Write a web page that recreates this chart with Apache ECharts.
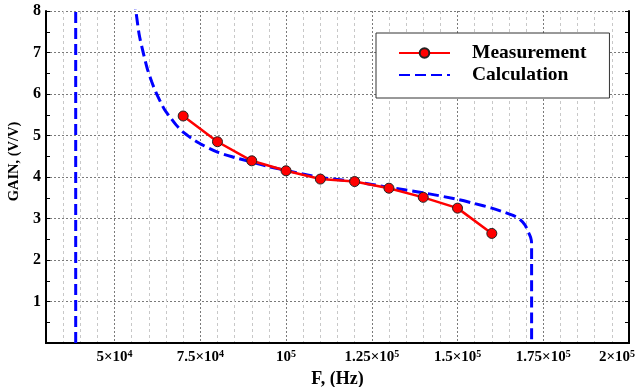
<!DOCTYPE html>
<html>
<head>
<meta charset="utf-8">
<script src="https://cdn.jsdelivr.net/npm/echarts@6/dist/echarts.min.js"></script>
<style>
html,body{margin:0;padding:0;background:#fff;}
#chart{width:636px;height:387px;}
</style>
</head>
<body>
<div id="chart"></div>
<script>
// ---- data ----
var measX = [70000, 80000, 90000, 100000, 110000, 120000, 130000, 140000, 150000, 160000];
var measY = [5.47, 4.85, 4.39, 4.15, 3.95, 3.89, 3.73, 3.51, 3.25, 2.64];

var calcX = [55600, 56200, 57200, 58400, 59500, 60800, 62000, 63200, 64600, 66200, 68000, 70000, 72500, 75000, 80000, 85000, 90000, 95000, 100000, 110000, 120000, 130000, 140000, 150000, 155000, 160000, 163000, 166000, 168000, 169700, 170600, 171300, 171600, 171600];
var calcY = [8.3, 8.0, 7.42, 6.98, 6.62, 6.30, 6.05, 5.84, 5.62, 5.44, 5.25, 5.08, 4.93, 4.80, 4.60, 4.47, 4.36, 4.25, 4.16, 3.99, 3.89, 3.75, 3.62, 3.46, 3.36, 3.25, 3.17, 3.08, 2.99, 2.84, 2.68, 2.55, 2.40, 0];

var calcLeftX = [38660, 38660];
var calcLeftY = [0, 8.5];

var xTickValues = [50000, 75000, 100000, 125000, 150000, 175000, 200000];
var xTickMant = ['5×10', '7.5×10', '10', '1.25×10', '1.5×10', '1.75×10', '2×10'];
var xTickExp = ['4', '4', '5', '5', '5', '5', '5'];

var yTickLabels = ['', '1', '2', '3', '4', '5', '6', '7', '8'];

// ---- build ----
function pairs(xs, ys) { return xs.map(function (x, i) { return [x, ys[i]]; }); }

var FONT = '"Liberation Serif", "Times New Roman", serif';
var light = '#c8c8c8', dark = '#7a7a7a', clear = 'rgba(0,0,0,0)';

var chart = echarts.init(document.getElementById('chart'), null, {renderer: 'canvas'});
chart.setOption({
  animation: false,
  backgroundColor: '#fff',
  grid: {left: 46, right: 7, top: 11, bottom: 44, containLabel: false, outerBoundsMode: 'none'},
  legend: {
    orient: 'vertical',
    left: 376, top: 33,
    itemWidth: 51, itemHeight: 12, itemGap: 0,
    padding: [9, 23, 12, 22],
    backgroundColor: '#fff',
    borderColor: '#333', borderWidth: 1,
    data: ['Measurement', {name: 'Calculation', itemStyle: {opacity: 0}}],
    textStyle: {
      fontFamily: FONT, fontWeight: 'bold', fontSize: 19.5, color: '#000',
      lineHeight: 22, width: 114, padding: [0, 0, 0, 17]
    }
  },
  xAxis: [{
    type: 'value', position: 'bottom',
    min: 30000, max: 200000, interval: 5000,
    axisLine: {show: true, lineStyle: {color: '#000', width: 2}},
    axisTick: {show: false},
    axisLabel: {
      margin: 6,
      formatter: function (v) {
        var i = xTickValues.indexOf(v);
        if (i < 0) return '';
        if (v === 200000) return '{r|' + xTickMant[i] + '}{rs|' + xTickExp[i] + '}';
        return '{b|' + xTickMant[i] + '}{s|' + xTickExp[i] + '}';
      },
      rich: {
        b: {fontFamily: FONT, fontWeight: 'bold', fontSize: 15, color: '#000', lineHeight: 17},
        s: {fontFamily: FONT, fontWeight: 'bold', fontSize: 10, color: '#000', lineHeight: 10, verticalAlign: 'top'},
        r: {fontFamily: FONT, fontWeight: 'bold', fontSize: 15, color: '#000', lineHeight: 17},
        rs: {fontFamily: FONT, fontWeight: 'bold', fontSize: 10, color: '#000', lineHeight: 10, verticalAlign: 'top', padding: [0, 24, 0, 0]}
      }
    },
    splitLine: {show: true, lineStyle: {color: [light, light, light, light, clear], type: [3, 3], width: 1}},
    name: 'F, (Hz)', nameLocation: 'middle', nameGap: 23,
    nameTextStyle: {fontFamily: FONT, fontWeight: 'bold', fontSize: 18, color: '#000'}
  }, {
    type: 'value', position: 'top',
    min: 30000, max: 200000, interval: 5000,
    axisLine: {show: true, lineStyle: {color: '#000', width: 2}},
    axisTick: {show: false},
    axisLabel: {show: false},
    splitLine: {show: true, lineStyle: {color: [clear, clear, clear, clear, dark], type: [2, 2], width: 1}}
  }],
  yAxis: [{
    type: 'value', position: 'left',
    min: 0, max: 8, interval: 1,
    axisLine: {show: true, lineStyle: {color: '#000', width: 2}},
    axisTick: {show: true, inside: true, length: 4, lineStyle: {color: '#000'}},
    minorTick: {show: true, splitNumber: 2, length: 4, lineStyle: {color: '#000'}},
    axisLabel: {
      margin: 5,
      fontFamily: FONT, fontWeight: 'bold', fontSize: 16, color: '#000',
      formatter: function (v) { return yTickLabels[Math.round(v)] || ''; }
    },
    splitLine: {show: true, lineStyle: {color: dark, type: [2, 2], width: 1}},
    name: 'GAIN, (V/V)', nameLocation: 'middle', nameGap: 22,
    nameTextStyle: {fontFamily: FONT, fontWeight: 'bold', fontSize: 14.5, color: '#000', padding: [0, 0, 0, 31]}
  }, {
    type: 'value', position: 'right',
    min: 0, max: 8, interval: 1,
    axisLine: {show: true, lineStyle: {color: '#000', width: 2}},
    axisTick: {show: true, inside: true, length: 4, lineStyle: {color: '#000'}},
    minorTick: {show: true, splitNumber: 2, length: 4, lineStyle: {color: '#000'}},
    axisLabel: {show: false},
    splitLine: {show: false}
  }],
  series: [{
    name: 'Calculation', type: 'line', xAxisIndex: 0, yAxisIndex: 0,
    data: pairs(calcLeftX, calcLeftY),
    symbol: 'none', z: 2, clip: true,
    lineStyle: {color: '#0000ff', width: 3, type: [11, 5]},
    itemStyle: {color: '#0000ff'}
  }, {
    name: 'Calculation', type: 'line', xAxisIndex: 0, yAxisIndex: 0,
    data: pairs(calcX, calcY),
    symbol: 'none', z: 2, clip: true, smooth: 0.3,
    lineStyle: {color: '#0000ff', width: 3, type: [11, 5]},
    itemStyle: {color: '#0000ff'}
  }, {
    name: 'Measurement', type: 'line', xAxisIndex: 0, yAxisIndex: 0,
    data: pairs(measX, measY),
    symbol: 'circle', symbolSize: 10, z: 3,
    lineStyle: {color: '#ff0000', width: 2.5},
    itemStyle: {color: '#ff0000', borderColor: '#222', borderWidth: 1}
  }]
});
</script>
</body>
</html>
